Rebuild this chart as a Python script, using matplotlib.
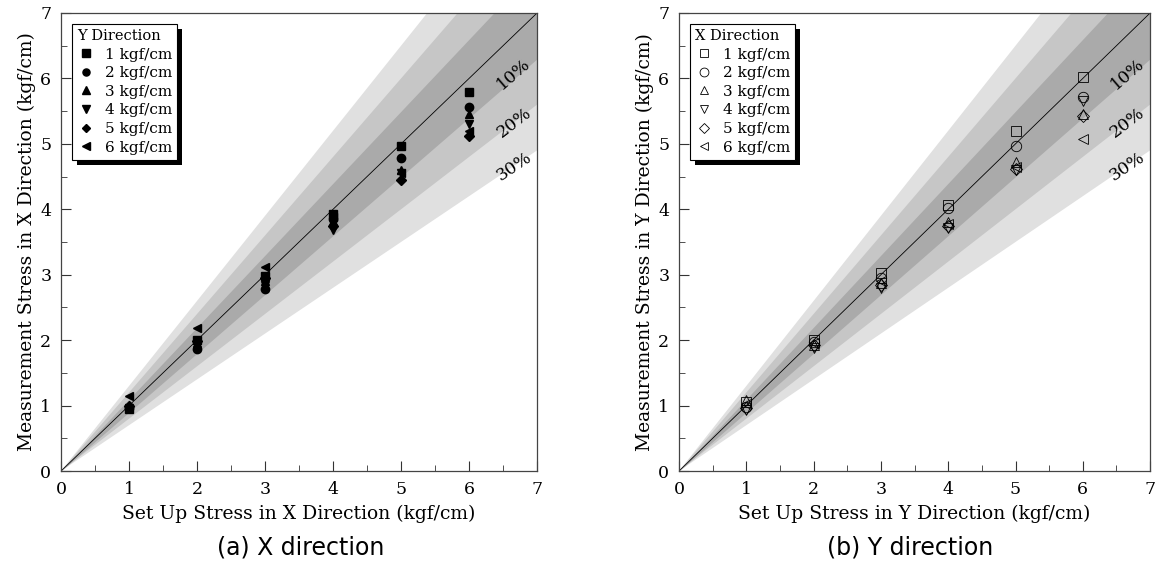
import numpy as np
import matplotlib
matplotlib.use('Agg')
from matplotlib import pyplot as plt
from matplotlib.patches import Rectangle

setup = [1, 2, 3, 4, 5, 6]
loads = ['1 kgf/cm', '2 kgf/cm', '3 kgf/cm', '4 kgf/cm', '5 kgf/cm', '6 kgf/cm']
markers = ['s', 'o', '^', 'v', 'D', '<']

# measured stress, X direction (filled markers), one row per Y-direction load
measX = [
    [0.95, 2.00, 2.98, 3.93, 4.97, 5.80],
    [0.97, 1.87, 2.78, 3.85, 4.79, 5.56],
    [0.99, 1.95, 2.90, 3.82, 4.60, 5.45],
    [0.96, 1.92, 2.85, 3.68, 4.55, 5.30],
    [1.00, 1.98, 2.95, 3.75, 4.45, 5.12],
    [1.15, 2.19, 3.12, 3.88, 4.56, 5.20],
]
# measured stress, Y direction (open markers), one row per X-direction load
measY = [
    [1.05, 2.00, 3.03, 4.06, 5.20, 6.02],
    [0.98, 1.97, 2.95, 4.02, 4.97, 5.72],
    [1.08, 1.93, 2.88, 3.80, 4.72, 5.45],
    [0.93, 1.88, 2.80, 3.72, 4.60, 5.65],
    [0.97, 1.92, 2.85, 3.75, 4.62, 5.42],
    [1.02, 1.95, 2.90, 3.78, 4.65, 5.08],
]
bands = [0.3, 0.2, 0.1]
band_cols = ['#e0e0e0', '#c6c6c6', '#aaaaaa']

plt.rcParams['font.family'] = ['DejaVu Serif']

fig = plt.figure(figsize=(11.56, 5.67), dpi=100)
ax1 = fig.add_axes([0.0528, 0.1693, 0.4118, 0.8078])
ax2 = fig.add_axes([0.5874, 0.1693, 0.4075, 0.8078])


def panel(ax, data, filled, xlabel, ylabel, legtitle):
    xx = np.array([0, 7.5])
    for p, c in zip(bands, band_cols):
        ax.fill_between(xx, xx * (1 - p), xx * (1 + p), color=c, lw=0, zorder=1)
    ax.plot(xx, xx, color='black', lw=0.6, zorder=2)
    for row, m, lab in zip(data, markers, loads):
        if filled:
            ax.plot(setup, row, ls='none', marker=m, ms=6 if m != 'D' else 5,
                    color='black', label=lab, zorder=3)
        else:
            ax.plot(setup, row, ls='none', marker=m, ms=7.5 if m != 'D' else 6.5,
                    mfc='none', mec='black', mew=0.6, label=lab, zorder=3)
    ax.set_xlim(0, 7)
    ax.set_ylim(0, 7)
    ax.set_xticks(range(8))
    ax.set_yticks(range(8))
    ax.set_xticks(np.arange(0.5, 7, 1), minor=True)
    ax.set_yticks(np.arange(0.5, 7, 1), minor=True)
    ax.tick_params(which='both', direction='in', labelsize=12.5, color='#333333')
    ax.tick_params(which='major', length=7, pad=7)
    ax.tick_params(which='minor', length=4)
    for s in ax.spines.values():
        s.set_color('#444444')
        s.set_linewidth(0.9)
    ax.set_xlabel(xlabel, fontsize=13.5, labelpad=5)
    ax.set_ylabel(ylabel, fontsize=13.5, labelpad=3)
    # percentage labels along the lower limit lines
    for p in [0.1, 0.2, 0.3]:
        x0 = 6.66
        y0 = x0 * (1 - p) + (0.08 if p == 0.1 else 0.0)
        ang = np.degrees(np.arctan((1 - p) * (458 / 7) / (476 / 7)))
        ax.text(x0, y0, f'{int(p * 100)}%', rotation=ang, fontsize=12.5,
                ha='center', va='center', zorder=4)
    leg = ax.legend(loc='upper left', title=legtitle, fontsize=11,
                    title_fontsize=10.5, frameon=True, fancybox=False,
                    edgecolor='black', framealpha=1, borderaxespad=0.7,
                    handletextpad=0.6, labelspacing=0.3, borderpad=0.35,
                    handlelength=1.2, markerscale=0.85)
    leg.get_frame().set_linewidth(0.8)
    leg._legend_box.align = 'left'
    leg.set_zorder(10)
    return leg


leg1 = panel(ax1, measX, True, 'Set Up Stress in X Direction (kgf/cm)',
             'Measurement Stress in X Direction (kgf/cm)', 'Y Direction')
leg2 = panel(ax2, measY, False, 'Set Up Stress in Y Direction (kgf/cm)',
             'Measurement Stress in Y Direction (kgf/cm)', 'X Direction')

# black drop shadow behind each legend box
fig.canvas.draw()
for ax, leg in [(ax1, leg1), (ax2, leg2)]:
    bb = leg.get_window_extent()
    sh = Rectangle((bb.x0 + 5, bb.y0 - 5), bb.width, bb.height,
                   transform=None, facecolor='black', edgecolor='none', zorder=9)
    ax.add_artist(sh)

fig.text(0.26, 0.035, '(a) X direction', fontsize=17, family='DejaVu Sans',
         ha='center', va='center')
fig.text(0.787, 0.035, '(b) Y direction', fontsize=17, family='DejaVu Sans',
         ha='center', va='center')

fig.savefig('out.png', dpi=100)
